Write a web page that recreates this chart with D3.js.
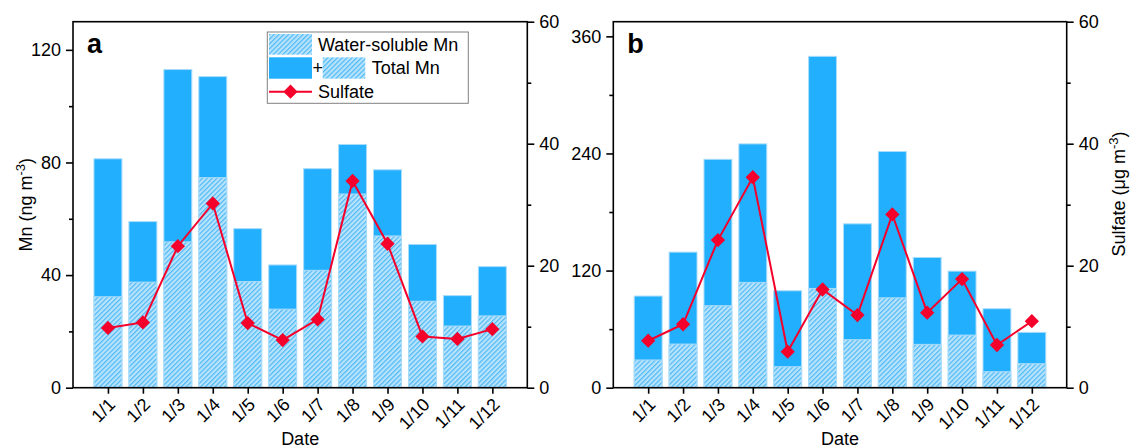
<!DOCTYPE html>
<html>
<head>
<meta charset="utf-8">
<script src="https://cdn.jsdelivr.net/npm/d3@7/dist/d3.min.js"></script>
<style>
  html, body { margin: 0; padding: 0; background: #fff; }
  svg { display: block; font-family: "Liberation Sans", Arial, sans-serif; }
</style>
</head>
<body>
<svg id="chart" width="1131" height="448"></svg>
<script>
// Daily dates
const dates = ["1/1", "1/2", "1/3", "1/4", "1/5", "1/6", "1/7", "1/8", "1/9", "1/10", "1/11", "1/12"];

// Panel a: Mn (ng m-3) and sulfate (µg m-3)
const totalMnA   = [81.3, 59.0, 113.0, 110.5, 56.5, 43.6, 77.8, 86.4, 77.4, 50.9, 32.7, 43.0];
const solubleMnA = [32.3, 37.5, 51.8, 74.6, 37.7, 27.9, 41.7, 68.8, 53.9, 30.7, 21.9, 25.5];
const sulfateA   = [9.8, 10.7, 23.2, 30.2, 10.6, 7.8, 11.2, 33.9, 23.6, 8.4, 8.0, 9.6];

// Panel b
const totalMnB   = [93.9, 138.9, 234.0, 249.8, 99.3, 339.5, 167.9, 242.0, 133.4, 119.4, 80.9, 56.7];
const solubleMnB = [28.4, 44.7, 84.0, 107.9, 21.5, 101.7, 49.2, 92.1, 44.4, 53.9, 16.4, 24.6];
const sulfateB   = [7.7, 10.4, 24.2, 34.5, 5.9, 16.1, 11.9, 28.4, 12.3, 17.8, 7.0, 10.9];

// Axis ticks
const mnTicksA = [0, 40, 80, 120];
const mnMinorA = [20, 60, 100];
const mnTicksB = [0, 120, 240, 360];
const mnMinorB = [60, 180, 300];
const sulfateTicks = [0, 20, 40, 60];
const sulfateMinor = [10, 30, 50];

const SOLID = "#21affe";
const HATCH_BG = "#b7e3fc";
const HATCH_LINE = "#4fb9f6";
const EDGE = "#a9dcfb";
const RED = "#f4002a";
const FONT = 18;

const svg = d3.select("#chart");

// Diagonal hatch for the water-soluble part
const defs = svg.append("defs");
const pat = defs.append("pattern")
  .attr("id", "hatch")
  .attr("patternUnits", "userSpaceOnUse")
  .attr("width", 3.4).attr("height", 3.4)
  .attr("patternTransform", "rotate(45)");
pat.append("rect").attr("width", 3.4).attr("height", 3.4).attr("fill", HATCH_BG);
pat.append("line").attr("x1", 0.6).attr("y1", 0).attr("x2", 0.6).attr("y2", 3.4)
  .attr("stroke", HATCH_LINE).attr("stroke-width", 1.2);

const plotTop = 21.7, plotBottom = 387.7;

function panel(opts) {
  const { left, right, total, soluble, sulfate, mnMax, mnTicks, mnMinor, letter } = opts;
  const g = svg.append("g");

  const x = d3.scaleLinear().domain([0, dates.length + 1]).range([left, right]);
  const y = d3.scaleLinear().domain([0, mnMax]).range([plotBottom, plotTop]);
  const y2 = d3.scaleLinear().domain([0, 60]).range([plotBottom, plotTop]);
  const step = x(1) - x(0);
  const bw = step * 0.8;

  // Total Mn bars (solid), water-soluble part hatched on top from zero
  g.selectAll(".tot").data(dates).join("rect")
    .attr("x", (d, i) => x(i + 1) - bw / 2)
    .attr("y", (d, i) => y(total[i]))
    .attr("width", bw)
    .attr("height", (d, i) => y(0) - y(total[i]))
    .attr("fill", SOLID).attr("stroke", EDGE).attr("stroke-width", 1);
  g.selectAll(".sol").data(dates).join("rect")
    .attr("x", (d, i) => x(i + 1) - bw / 2)
    .attr("y", (d, i) => y(soluble[i]))
    .attr("width", bw)
    .attr("height", (d, i) => y(0) - y(soluble[i]))
    .attr("fill", "url(#hatch)").attr("stroke", EDGE).attr("stroke-width", 1);

  // Sulfate line with diamonds
  const line = d3.line().x((d, i) => x(i + 1)).y(d => y2(d));
  g.append("path").datum(sulfate).attr("d", line)
    .attr("fill", "none").attr("stroke", RED).attr("stroke-width", 2);
  const diamond = d3.symbol().type(d3.symbolDiamond2).size(130);
  g.selectAll(".dia").data(sulfate).join("path")
    .attr("transform", (d, i) => `translate(${x(i + 1)},${y2(d)})`)
    .attr("d", diamond).attr("fill", RED);

  // Frame
  g.append("rect").attr("x", left).attr("y", plotTop)
    .attr("width", right - left).attr("height", plotBottom - plotTop)
    .attr("fill", "none").attr("stroke", "#000").attr("stroke-width", 1.6);

  // Left axis
  const axL = g.append("g").attr("transform", `translate(${left},0)`);
  axL.call(d3.axisLeft(y).tickValues(mnTicks).tickSize(7).tickPadding(5).tickFormat(d3.format("d")));
  axL.append("g").call(d3.axisLeft(y).tickValues(mnMinor).tickSize(4).tickFormat(""));
  // Right axis
  const axR = g.append("g").attr("transform", `translate(${right},0)`);
  axR.call(d3.axisRight(y2).tickValues(sulfateTicks).tickSize(7).tickPadding(5).tickFormat(d3.format("d")));
  axR.append("g").call(d3.axisRight(y2).tickValues(sulfateMinor).tickSize(4).tickFormat(""));
  // Bottom axis
  const axB = g.append("g").attr("transform", `translate(0,${plotBottom})`);
  axB.call(d3.axisBottom(x).tickValues(d3.range(1, dates.length + 1)).tickSize(6)
    .tickFormat(i => dates[i - 1]));
  axB.selectAll(".tick text")
    .attr("text-anchor", "end")
    .attr("dy", null).attr("y", 0)
    .attr("transform", "translate(8,18) rotate(-45)");

  [axL, axR, axB].forEach(a => {
    a.selectAll(".domain").remove();
    a.selectAll("line").attr("stroke", "#000").attr("stroke-width", 1.6);
    a.selectAll("text").attr("font-size", FONT).attr("fill", "#000")
      .attr("font-family", "Liberation Sans, Arial, sans-serif");
  });

  // Panel letter
  g.append("text").attr("x", left + 14).attr("y", 53)
    .attr("font-size", 27).attr("font-weight", "bold").text(letter);

  // X title
  g.append("text").attr("x", (left + right) / 2).attr("y", 445)
    .attr("text-anchor", "middle").attr("font-size", FONT).text("Date");

  return { x, y, y2 };
}

panel({ left: 73, right: 527.3, total: totalMnA, soluble: solubleMnA, sulfate: sulfateA,
        mnMax: 130, mnTicks: mnTicksA, mnMinor: mnMinorA, letter: "a" });
panel({ left: 613.3, right: 1066.7, total: totalMnB, soluble: solubleMnB, sulfate: sulfateB,
        mnMax: 375, mnTicks: mnTicksB, mnMinor: mnMinorB, letter: "b" });

// Y titles
const yt = svg.append("text").attr("transform", "translate(32,204.7) rotate(-90)")
  .attr("text-anchor", "middle").attr("font-size", FONT);
yt.append("tspan").text("Mn (ng m");
yt.append("tspan").attr("font-size", 13).attr("dy", -7).text("-3");
yt.append("tspan").attr("dy", 7).text(")");

const yt2 = svg.append("text").attr("transform", "translate(1125,194) rotate(-90)")
  .attr("text-anchor", "middle").attr("font-size", FONT);
yt2.append("tspan").text("Sulfate (\u03bcg m");
yt2.append("tspan").attr("font-size", 13).attr("dy", -7).text("-3");
yt2.append("tspan").attr("dy", 7).text(")");

// Legend
const lg = svg.append("g");
lg.append("rect").attr("x", 267.3).attr("y", 32).attr("width", 201).attr("height", 71.3)
  .attr("fill", "#fff").attr("stroke", "#808080").attr("stroke-width", 1);
lg.append("rect").attr("x", 269).attr("y", 34).attr("width", 43).attr("height", 20.7)
  .attr("fill", "url(#hatch)");
lg.append("text").attr("x", 318).attr("y", 50.5).attr("font-size", FONT).text("Water-soluble Mn");
lg.append("rect").attr("x", 269).attr("y", 57.3).attr("width", 43).attr("height", 21.4)
  .attr("fill", SOLID);
lg.append("text").attr("x", 312.5).attr("y", 74).attr("font-size", FONT).text("+");
lg.append("rect").attr("x", 322.7).attr("y", 57.3).attr("width", 42.6).attr("height", 21.4)
  .attr("fill", "url(#hatch)");
lg.append("text").attr("x", 371.7).attr("y", 74).attr("font-size", FONT).text("Total Mn");
lg.append("line").attr("x1", 269).attr("x2", 312).attr("y1", 91.7).attr("y2", 91.7)
  .attr("stroke", RED).attr("stroke-width", 2);
lg.append("path").attr("transform", "translate(290.5,91.7)")
  .attr("d", d3.symbol().type(d3.symbolDiamond2).size(130)).attr("fill", RED);
lg.append("text").attr("x", 318).attr("y", 97.5).attr("font-size", FONT).text("Sulfate");
</script>
</body>
</html>
